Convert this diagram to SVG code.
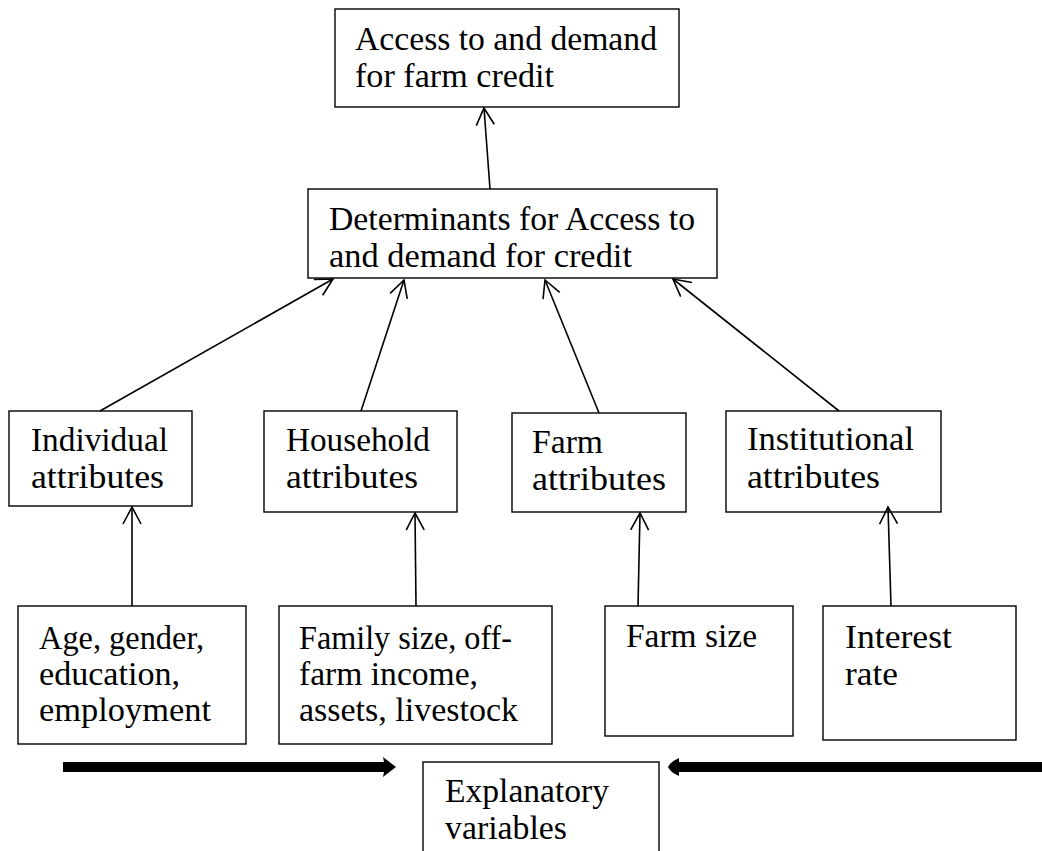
<svg xmlns="http://www.w3.org/2000/svg" width="1042" height="851" viewBox="0 0 1042 851">
<style>
.box{fill:#fff;stroke:#000;stroke-width:1.4}
.t{font-family:"Liberation Serif","Times New Roman",serif;font-size:33px;fill:#000}
.c{stroke:#000;stroke-width:1.6;fill:none;marker-end:url(#open)}
</style>
<defs>
<marker id="open" markerUnits="userSpaceOnUse" markerWidth="24" markerHeight="24" viewBox="-20 -12 24 24" refX="0" refY="0" orient="auto">
<path d="M-17,-9 L0,0 L-17,9" fill="none" stroke="#000" stroke-width="1.6"/>
</marker>
</defs>
<rect width="1042" height="851" fill="#fff"/>
<g id="n-access">
<rect class="box" x="335" y="9" width="344" height="98"/>
<text class="t" x="355" y="50" textLength="302" lengthAdjust="spacingAndGlyphs">Access to and demand</text>
<text class="t" x="355" y="87" textLength="199" lengthAdjust="spacingAndGlyphs">for farm credit</text>
</g>
<g id="n-determinants">
<rect class="box" x="308" y="189" width="409" height="89"/>
<text class="t" x="329" y="230" textLength="366" lengthAdjust="spacingAndGlyphs">Determinants for Access to</text>
<text class="t" x="329" y="267" textLength="303" lengthAdjust="spacingAndGlyphs">and demand for credit</text>
</g>
<g id="n-individual">
<rect class="box" x="9" y="411" width="183" height="95"/>
<text class="t" x="31" y="451" textLength="137" lengthAdjust="spacingAndGlyphs">Individual</text>
<text class="t" x="31" y="488" textLength="133" lengthAdjust="spacingAndGlyphs">attributes</text>
</g>
<g id="n-household">
<rect class="box" x="264" y="411" width="193" height="101"/>
<text class="t" x="286" y="451" textLength="144" lengthAdjust="spacingAndGlyphs">Household</text>
<text class="t" x="286" y="488" textLength="132" lengthAdjust="spacingAndGlyphs">attributes</text>
</g>
<g id="n-farm">
<rect class="box" x="512" y="413" width="174" height="99"/>
<text class="t" x="532" y="453" textLength="71" lengthAdjust="spacingAndGlyphs">Farm</text>
<text class="t" x="532" y="490" textLength="134" lengthAdjust="spacingAndGlyphs">attributes</text>
</g>
<g id="n-institutional">
<rect class="box" x="726" y="411" width="215" height="101"/>
<text class="t" x="747" y="450" textLength="167" lengthAdjust="spacingAndGlyphs">Institutional</text>
<text class="t" x="747" y="488" textLength="133" lengthAdjust="spacingAndGlyphs">attributes</text>
</g>
<g id="n-age">
<rect class="box" x="18" y="606" width="228" height="138"/>
<text class="t" x="39" y="649" textLength="165" lengthAdjust="spacingAndGlyphs">Age, gender,</text>
<text class="t" x="39" y="685" textLength="141" lengthAdjust="spacingAndGlyphs">education,</text>
<text class="t" x="39" y="721" textLength="172" lengthAdjust="spacingAndGlyphs">employment</text>
</g>
<g id="n-family">
<rect class="box" x="279" y="606" width="273" height="138"/>
<text class="t" x="299" y="649" textLength="213" lengthAdjust="spacingAndGlyphs">Family size, off-</text>
<text class="t" x="299" y="685" textLength="179" lengthAdjust="spacingAndGlyphs">farm income,</text>
<text class="t" x="299" y="721" textLength="219" lengthAdjust="spacingAndGlyphs">assets, livestock</text>
</g>
<g id="n-farmsize">
<rect class="box" x="605" y="606" width="188" height="130"/>
<text class="t" x="626" y="647" textLength="131" lengthAdjust="spacingAndGlyphs">Farm size</text>
</g>
<g id="n-interest">
<rect class="box" x="823" y="606" width="193" height="134"/>
<text class="t" x="845" y="648" textLength="107" lengthAdjust="spacingAndGlyphs">Interest</text>
<text class="t" x="845" y="685" textLength="53" lengthAdjust="spacingAndGlyphs">rate</text>
</g>
<g id="n-explanatory">
<rect class="box" x="423" y="762" width="236" height="110"/>
<text class="t" x="445" y="802" textLength="164" lengthAdjust="spacingAndGlyphs">Explanatory</text>
<text class="t" x="445" y="839" textLength="122" lengthAdjust="spacingAndGlyphs">variables</text>
</g>
<g id="connectors">
<line class="c" x1="490" y1="189" x2="484" y2="108"/>
<line class="c" x1="100" y1="411" x2="333" y2="279"/>
<line class="c" x1="361" y1="411" x2="404" y2="280"/>
<line class="c" x1="599" y1="413" x2="545" y2="280"/>
<line class="c" x1="839" y1="411" x2="673" y2="279"/>
<line class="c" x1="132" y1="606" x2="132" y2="507"/>
<line class="c" x1="416" y1="606" x2="415" y2="513"/>
<line class="c" x1="638" y1="606" x2="640" y2="513"/>
<line class="c" x1="891" y1="606" x2="888" y2="507"/>
<path d="M63,762 L384,762 L383,757 L396,767 L383,777 L384,772 L63,772 Z" fill="#000"/>
<path d="M1042,762 L679,762 L679,758 Q670,762 668,767 Q670,772 679,776 L679,772 L1042,772 Z" fill="#000"/>
</g>
</svg>
